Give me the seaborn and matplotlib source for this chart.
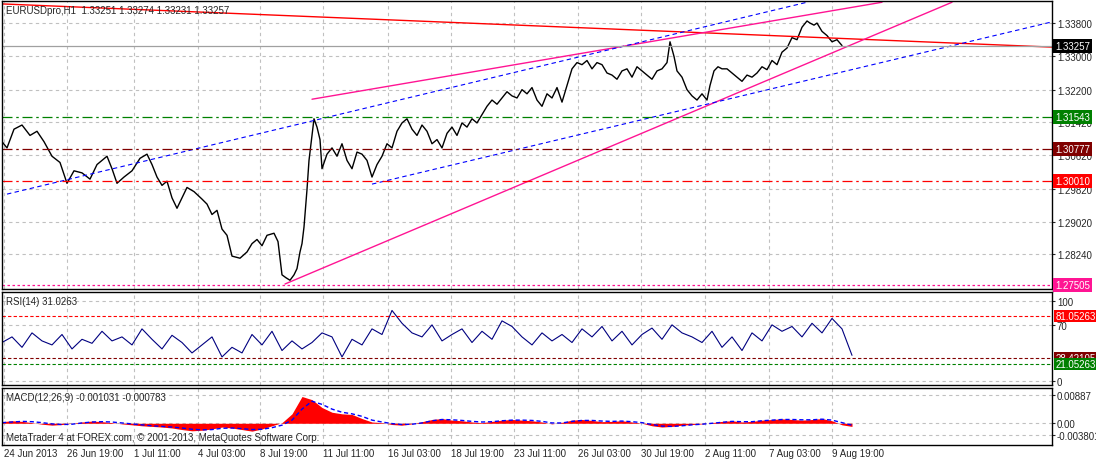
import matplotlib
matplotlib.use("Agg")
import matplotlib.pyplot as plt
import seaborn as sns
import numpy as np

sns.set_style("white")
plt.rcParams['font.family'] = ['Liberation Sans', 'DejaVu Sans']

# bar index (x) and close prices
px = [0,5,12,20,28,35,42,50,58,65,72,80,88,95,105,110,115,122,130,138,145,150,155,160,165,170,175,180,185,192,200,205,210,215,220,225,230,238,245,250,255,260,265,272,276,280,284,288,292,295,298,300,302,305,307,310,312,315,318,320,325,330,335,340,345,350,355,360,365,370,375,380,385,390,395,400,405,410,415,420,425,430,435,440,445,450,455,460,465,470,475,480,485,490,495,500,505,510,515,520,525,530,535,540,545,550,555,560,565,570,575,580,585,590,595,600,605,610,615,620,625,630,635,640,645,650,655,660,665,668,672,675,680,685,690,695,700,705,708,712,716,720,725,730,735,740,745,750,755,760,765,770,775,780,785,790,795,800,805,808,812,815,820,825,830,835,840]
pc = [1.3095,1.3080,1.3125,1.3135,1.3110,1.3120,1.3095,1.3060,1.3045,1.2995,1.3025,1.3020,1.3005,1.3040,1.3060,1.3030,1.2995,1.3010,1.3025,1.3055,1.3065,1.3040,1.3010,1.2990,1.3000,1.2960,1.2935,1.2960,1.2985,1.2975,1.2957,1.2945,1.2920,1.2930,1.2885,1.2870,1.2820,1.2815,1.2830,1.2850,1.2860,1.2845,1.2870,1.2875,1.2855,1.2775,1.2768,1.2762,1.2775,1.2790,1.2830,1.2850,1.2890,1.2980,1.3050,1.3110,1.3150,1.3130,1.3100,1.3030,1.3065,1.3080,1.3060,1.3090,1.3050,1.3030,1.3070,1.3065,1.3050,1.3010,1.3040,1.3060,1.3090,1.3080,1.3120,1.3140,1.3150,1.3125,1.3110,1.3135,1.3120,1.3090,1.3100,1.3080,1.3115,1.3130,1.3110,1.3140,1.3130,1.3150,1.3140,1.3160,1.3180,1.3195,1.3185,1.3200,1.3215,1.3205,1.3200,1.3220,1.3210,1.3225,1.3195,1.3180,1.3210,1.3200,1.3225,1.3190,1.3230,1.3270,1.3285,1.3280,1.3290,1.3270,1.3285,1.3280,1.3260,1.3255,1.3245,1.3265,1.3270,1.3250,1.3275,1.3265,1.3255,1.3245,1.3265,1.3270,1.3285,1.3335,1.3300,1.3265,1.3250,1.3220,1.3205,1.3195,1.3210,1.3195,1.3230,1.3265,1.3275,1.3270,1.3270,1.3260,1.3250,1.3240,1.3255,1.3250,1.3260,1.3275,1.3268,1.3290,1.3280,1.3310,1.3320,1.3345,1.3340,1.3370,1.3385,1.3380,1.3375,1.3380,1.3360,1.3350,1.3335,1.3340,1.3326]

# RSI
rsi = [48,55,42,60,50,45,58,40,52,47,62,50,55,45,65,52,40,57,48,35,45,55,30,42,35,58,45,62,38,50,40,48,60,55,30,52,45,65,58,88,72,60,55,70,50,58,65,48,62,52,75,68,55,45,60,50,58,48,65,55,68,50,62,45,58,66,52,70,60,55,48,62,42,55,38,60,50,70,62,68,55,72,60,78,65,32]
rx = [10 * i for i in range(len(rsi))]

# MACD histogram and signal
macd = [0.0005,0.0008,0.0006,0.0002,-0.0003,-0.0006,-0.0004,0.0000,0.0004,0.0007,0.0005,0.0002,-0.0002,-0.0005,-0.0008,-0.0010,-0.0012,-0.0015,-0.0020,-0.0024,-0.0022,-0.0018,-0.0012,-0.0015,-0.0020,-0.0025,-0.0018,-0.0008,0.0002,0.0030,0.0085,0.0075,0.0050,0.0035,0.0030,0.0028,0.0015,0.0004,0.0002,-0.0004,-0.0006,-0.0002,0.0005,0.0012,0.0015,0.0010,0.0008,0.0004,0.0002,0.0006,0.0010,0.0012,0.0010,0.0008,0.0004,-0.0002,0.0003,0.0010,0.0012,0.0009,0.0005,0.0006,0.0008,0.0004,0.0000,-0.0008,-0.0012,-0.0010,-0.0006,-0.0004,-0.0002,0.0002,0.0006,0.0008,0.0004,0.0006,0.0010,0.0012,0.0014,0.0012,0.0010,0.0012,0.0015,0.0008,-0.0005,-0.0010]
signal = [0.0002,0.0004,0.0006,0.0005,0.0002,-0.0002,-0.0004,-0.0003,0.0001,0.0004,0.0005,0.0004,0.0001,-0.0002,-0.0005,-0.0008,-0.0010,-0.0012,-0.0015,-0.0019,-0.0021,-0.0020,-0.0016,-0.0015,-0.0017,-0.0020,-0.0019,-0.0014,-0.0006,0.0010,0.0045,0.0070,0.0060,0.0045,0.0035,0.0030,0.0022,0.0010,0.0004,-0.0001,-0.0004,-0.0003,0.0001,0.0008,0.0012,0.0011,0.0009,0.0006,0.0004,0.0005,0.0008,0.0010,0.0010,0.0009,0.0006,0.0001,0.0001,0.0006,0.0009,0.0009,0.0007,0.0006,0.0007,0.0005,0.0002,-0.0004,-0.0009,-0.0010,-0.0008,-0.0005,-0.0003,0.0000,0.0003,0.0006,0.0005,0.0005,0.0008,0.0010,0.0012,0.0012,0.0011,0.0011,0.0013,0.0010,0.0002,-0.0006]
n_m = min(len(macd), len(signal))
mx = [10 * i for i in range(n_m)]

n_p = min(len(px), len(pc))
px, pc = px[:n_p], pc[:n_p]

# trend lines (bar, price)
trend_red = [(0, 1.3426), (1052, 1.3322)]
trend_mag = [[(310, 1.3197), (880, 1.3430)], [(283, 1.2753), (950, 1.3430)]]
trend_blue = [[(5, 1.2969), (805, 1.3430)], [(370, 1.2993), (1052, 1.3384)]]
levels = [(1.31543, '#008000', '1.31543'), (1.30777, '#800000', '1.30777'), (1.30010, '#ff0000', '1.30010'), (1.27505, '#ff1493', '1.27505')]
last_price = 1.33257
price_ticks = [1.33800, 1.33000, 1.32200, 1.31420, 1.30620, 1.29820, 1.29020, 1.28240]
date_pos = [2, 65, 132, 196, 258, 321, 386, 449, 512, 576, 639, 703, 767, 830]
date_labels = ["24 Jun 2013", "26 Jun 19:00", "1 Jul 11:00", "4 Jul 03:00", "8 Jul 19:00", "11 Jul 11:00", "16 Jul 03:00", "18 Jul 19:00", "23 Jul 11:00", "26 Jul 03:00", "30 Jul 19:00", "2 Aug 11:00", "7 Aug 03:00", "9 Aug 19:00"]

FS = 7
W, H = 1096, 460
fig = plt.figure(figsize=(W/100, H/100), dpi=100)
L, R = 2/W, 1052/W
ax1 = fig.add_axes([L, 1-290/H, R-L, 288/H])
ax2 = fig.add_axes([L, 1-386/H, R-L, 93/H])
ax3 = fig.add_axes([L, 1-446/H, R-L, 57/H])
XMAX = 1050
for ax in (ax1, ax2, ax3):
    ax.set_xlim(0, XMAX)
    ax.set_xticks(date_pos)
    ax.grid(True, color='#c0c0c0', ls=(0, (3, 3)), lw=0.8)
    ax.yaxis.tick_right()
    ax.tick_params(labelsize=FS, length=2, pad=1.5)
    for s in ax.spines.values():
        s.set_color('black'); s.set_linewidth(1)
    ax.set_axisbelow(True)
ax1.set_xticklabels([]); ax2.set_xticklabels([])
ax3.set_xticklabels(date_labels, fontsize=FS, ha='left')
ax3.tick_params(axis='x', pad=0.5)

# main panel
ax1.set_ylim(1.2741, 1.3433)
ax1.set_yticks(price_ticks)
ax1.set_yticklabels([f"{t:.5f}" for t in price_ticks])
sns.lineplot(x=px, y=pc, ax=ax1, color='black', lw=1, estimator=None, sort=False)
ax1.plot(*zip(*trend_red), color='red', lw=1)
for t in trend_mag:
    ax1.plot(*zip(*t), color='#ff1493', lw=1)
for t in trend_blue:
    ax1.plot(*zip(*t), color='blue', lw=0.8, ls=(0, (4, 3)))
for v, c, lab in levels:
    ax1.axhline(v, color=c, lw=0.9, ls=(0, (8, 3, 2, 3)) if v > 1.28 else (0, (2, 2)))
    ax1.text(1.003, v, lab, transform=ax1.get_yaxis_transform(), fontsize=FS, color='white', va='center', ha='left',
             bbox=dict(boxstyle='square,pad=0.2', fc=c, ec='none'))
ax1.axhline(last_price, color='#a0a0a0', lw=0.9)
ax1.text(1.003, last_price, f"{last_price:.5f}", transform=ax1.get_yaxis_transform(), fontsize=FS, color='white', va='center',
         bbox=dict(boxstyle='square,pad=0.2', fc='black', ec='none'))
ax1.text(0.004, 0.985, "EURUSDpro,H1  1.33251 1.33274 1.33231 1.33257", transform=ax1.transAxes, fontsize=FS, va='top')
ax1.set_ylabel('')

# RSI
ax2.set_ylim(-5, 111)
ax2.set_yticks([0, 70, 100])
sns.lineplot(x=rx, y=rsi, ax=ax2, color='#000080', lw=0.8, estimator=None)
for v, c, lab in [(81.05263, '#ff0000', '81.05263'), (28.42105, '#800000', '28.42105'), (21.05263, '#008000', '21.05263')]:
    ax2.axhline(v, color=c, lw=0.8, ls=(0, (3, 2)))
    ax2.text(1.003, v, lab, transform=ax2.get_yaxis_transform(), fontsize=FS, color='white', va='center',
             bbox=dict(boxstyle='square,pad=0.1', fc=c, ec='none'))
ax2.text(0.004, 0.96, "RSI(14) 31.0263", transform=ax2.transAxes, fontsize=FS, va='top')
ax2.set_ylabel('')

# MACD
ax3.set_ylim(-0.0069, 0.0112)
ax3.set_yticks([0.00887, 0.0, -0.003801])
ax3.set_yticklabels(['0.00887', '0.00', '-0.003801'])
ax3.fill_between(mx, macd[:n_m], 0, color='red', lw=0)
sns.lineplot(x=mx, y=signal[:n_m], ax=ax3, color='blue', lw=1, ls=(0, (3, 2)), estimator=None)
ax3.text(0.004, 0.93, "MACD(12,26,9) -0.001031 -0.000783", transform=ax3.transAxes, fontsize=FS, va='top')
ax3.text(0.004, 0.06, "MetaTrader 4 at FOREX.com, © 2001-2013, MetaQuotes Software Corp.", transform=ax3.transAxes, fontsize=FS, va='bottom')
ax3.set_ylabel('')

fig.savefig("out.png", dpi=100)
